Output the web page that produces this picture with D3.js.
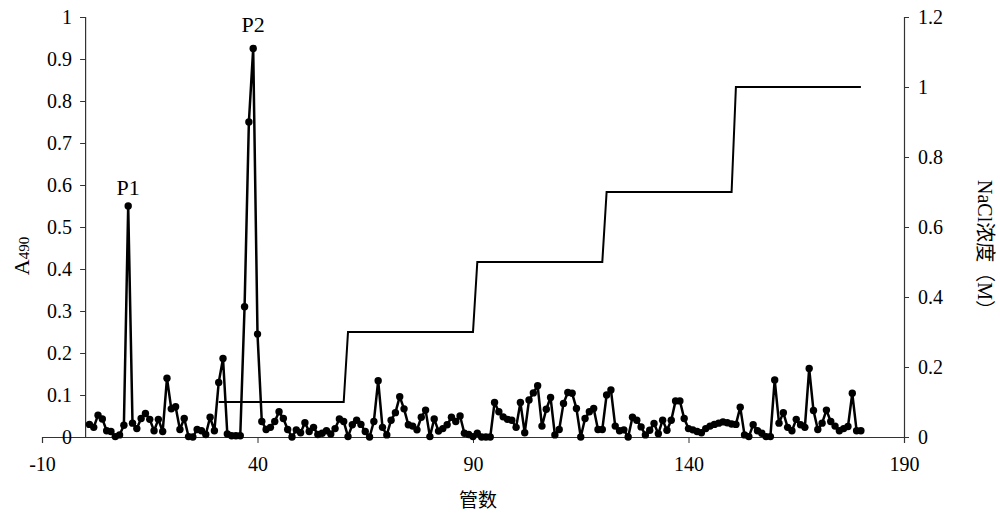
<!DOCTYPE html>
<html>
<head>
<meta charset="utf-8">
<script src="https://cdn.jsdelivr.net/npm/d3@7"></script>
<style>
  html, body { margin: 0; padding: 0; background: #fff; }
  svg { display: block; }
  .tick text { font-family: "Liberation Serif", "Times New Roman", serif; font-size: 20px; fill: #000; }
</style>
</head>
<body>
<svg id="chart" width="1000" height="524"></svg>
<script>
// ---- data ----
const a490 = [
  0.03, 0.023, 0.052, 0.043, 0.015, 0.013, 0.001, 0.005, 0.028, 0.55,
  0.033, 0.02, 0.044, 0.056, 0.042, 0.015, 0.042, 0.013, 0.14, 0.067,
  0.072, 0.018, 0.044, 0.001, 0, 0.018, 0.015, 0.006, 0.047, 0.015,
  0.13, 0.187, 0.007, 0.003, 0.003, 0.003, 0.31, 0.75, 0.925, 0.245,
  0.037, 0.018, 0.023, 0.037, 0.06, 0.044, 0.018, 0, 0.017, 0.01,
  0.034, 0.013, 0.023, 0.006, 0.009, 0.015, 0.007, 0.02, 0.043, 0.037,
  0.001, 0.029, 0.04, 0.03, 0.013, 0, 0.037, 0.134, 0.023, 0.005,
  0.04, 0.058, 0.096, 0.067, 0.029, 0.026, 0.017, 0.047, 0.064, 0.001,
  0.043, 0.014, 0.02, 0.029, 0.047, 0.037, 0.05, 0.009, 0.006, 0.001,
  0.009, 0, 0, 0, 0.082, 0.06, 0.048, 0.042, 0.04, 0.023,
  0.082, 0.01, 0.088, 0.105, 0.122, 0.026, 0.066, 0.094, 0.005, 0.018,
  0.08, 0.106, 0.104, 0.068, 0, 0.044, 0.06, 0.068, 0.018, 0.018,
  0.1, 0.112, 0.026, 0.015, 0.017, 0, 0.047, 0.04, 0.024, 0.005,
  0.016, 0.032, 0.008, 0.04, 0.016, 0.04, 0.086, 0.086, 0.044, 0.02,
  0.017, 0.013, 0.01, 0.02, 0.026, 0.03, 0.033, 0.036, 0.034, 0.031,
  0.03, 0.071, 0.005, 0.001, 0.029, 0.015, 0.009, 0.001, 0.001, 0.136,
  0.033, 0.058, 0.023, 0.015, 0.042, 0.029, 0.023, 0.163, 0.063, 0.018,
  0.033, 0.064, 0.037, 0.026, 0.015, 0.02, 0.025, 0.104, 0.015, 0.015
];
const tubes = a490.map((_, i) => i + 1);

const naclTubes = [31, 60, 61, 90, 91, 120, 121, 150, 151, 180];
const naclConc  = [0.1, 0.1, 0.3, 0.3, 0.5, 0.5, 0.7, 0.7, 1.0, 1.0];

const xTicks = [-10, 40, 90, 140, 190];
const leftTicks = [0, 0.1, 0.2, 0.3, 0.4, 0.5, 0.6, 0.7, 0.8, 0.9, 1];
const rightTicks = [0, 0.2, 0.4, 0.6, 0.8, 1, 1.2];

const peakNames = ["P1", "P2"];
const peakTubes = [10, 39];

// ---- chart ----
const svg = d3.select("#chart");
const serif = '"Liberation Serif", "Times New Roman", serif';
const mixed = '"Liberation Serif", "Noto Sans CJK SC", serif';

const x = d3.scaleLinear().domain([-10, 190]).range([42, 904]);
const yL = d3.scaleLinear().domain([0, 1]).range([437, 17]);
const yR = d3.scaleLinear().domain([0, 1.2]).range([437, 17]);

const fmt = d => String(+d.toFixed(2));

// x axis
const gx = svg.append("g").attr("transform", `translate(0,${yL(0)})`)
  .call(d3.axisBottom(x).tickValues(xTicks).tickSize(6).tickPadding(14).tickFormat(d => String(d)));
gx.select(".domain").attr("stroke", "#333").attr("stroke-width", 1.2);
gx.selectAll(".tick line").attr("stroke", "#333");

// left axis at x = 0
const gl = svg.append("g").attr("transform", `translate(${x(0)},0)`)
  .call(d3.axisLeft(yL).tickValues(leftTicks).tickSize(5).tickPadding(8).tickFormat(fmt));
gl.select(".domain").attr("stroke", "#333").attr("stroke-width", 1.2);
gl.selectAll(".tick line").attr("stroke", "#333");

// right axis
const gr = svg.append("g").attr("transform", `translate(${x(190)},0)`)
  .call(d3.axisRight(yR).tickValues(rightTicks).tickSize(5).tickPadding(9).tickFormat(fmt));
gr.select(".domain").attr("stroke", "#333").attr("stroke-width", 1.2);
gr.selectAll(".tick line").attr("stroke", "#333");

// NaCl step line
const naclData = naclTubes.map((t, i) => [t, naclConc[i]]);
svg.append("path")
  .datum(naclData)
  .attr("fill", "none")
  .attr("stroke", "#000")
  .attr("stroke-width", 2)
  .attr("d", d3.line().x(d => x(d[0])).y(d => yR(d[1])));

// A490 line
const aData = tubes.map((t, i) => [t, a490[i]]);
svg.append("path")
  .datum(aData)
  .attr("fill", "none")
  .attr("stroke", "#000")
  .attr("stroke-width", 2.5)
  .attr("stroke-linejoin", "round")
  .attr("d", d3.line().x(d => x(d[0])).y(d => yL(d[1])));

svg.append("g").selectAll("circle")
  .data(aData)
  .join("circle")
  .attr("cx", d => x(d[0]))
  .attr("cy", d => yL(d[1]))
  .attr("r", 3.7)
  .attr("fill", "#000");

// peak labels
const labelGap = [11, 17];
svg.append("g").selectAll("text")
  .data(peakNames)
  .join("text")
  .attr("x", (d, i) => x(peakTubes[i]))
  .attr("y", (d, i) => yL(a490[peakTubes[i] - 1]) - labelGap[i])
  .attr("text-anchor", "middle")
  .attr("font-family", serif)
  .attr("font-size", 22)
  .text(d => d);

// x axis title
svg.append("text")
  .attr("x", 478).attr("y", 507)
  .attr("text-anchor", "middle")
  .attr("font-family", '"Noto Sans CJK SC", sans-serif')
  .attr("font-size", 19)
  .text("管数");

// left axis title A490
const lt = svg.append("text")
  .attr("transform", "translate(29,256) rotate(-90)")
  .attr("text-anchor", "middle")
  .attr("font-family", serif)
  .attr("font-size", 22);
lt.append("tspan").text("A");
lt.append("tspan").attr("font-size", 15).text("490");

// right axis title
svg.append("text")
  .attr("transform", "translate(978,250) rotate(90)")
  .attr("text-anchor", "middle")
  .attr("font-family", mixed)
  .attr("font-size", 20)
  .text("NaCl浓度（M）");
</script>
</body>
</html>
